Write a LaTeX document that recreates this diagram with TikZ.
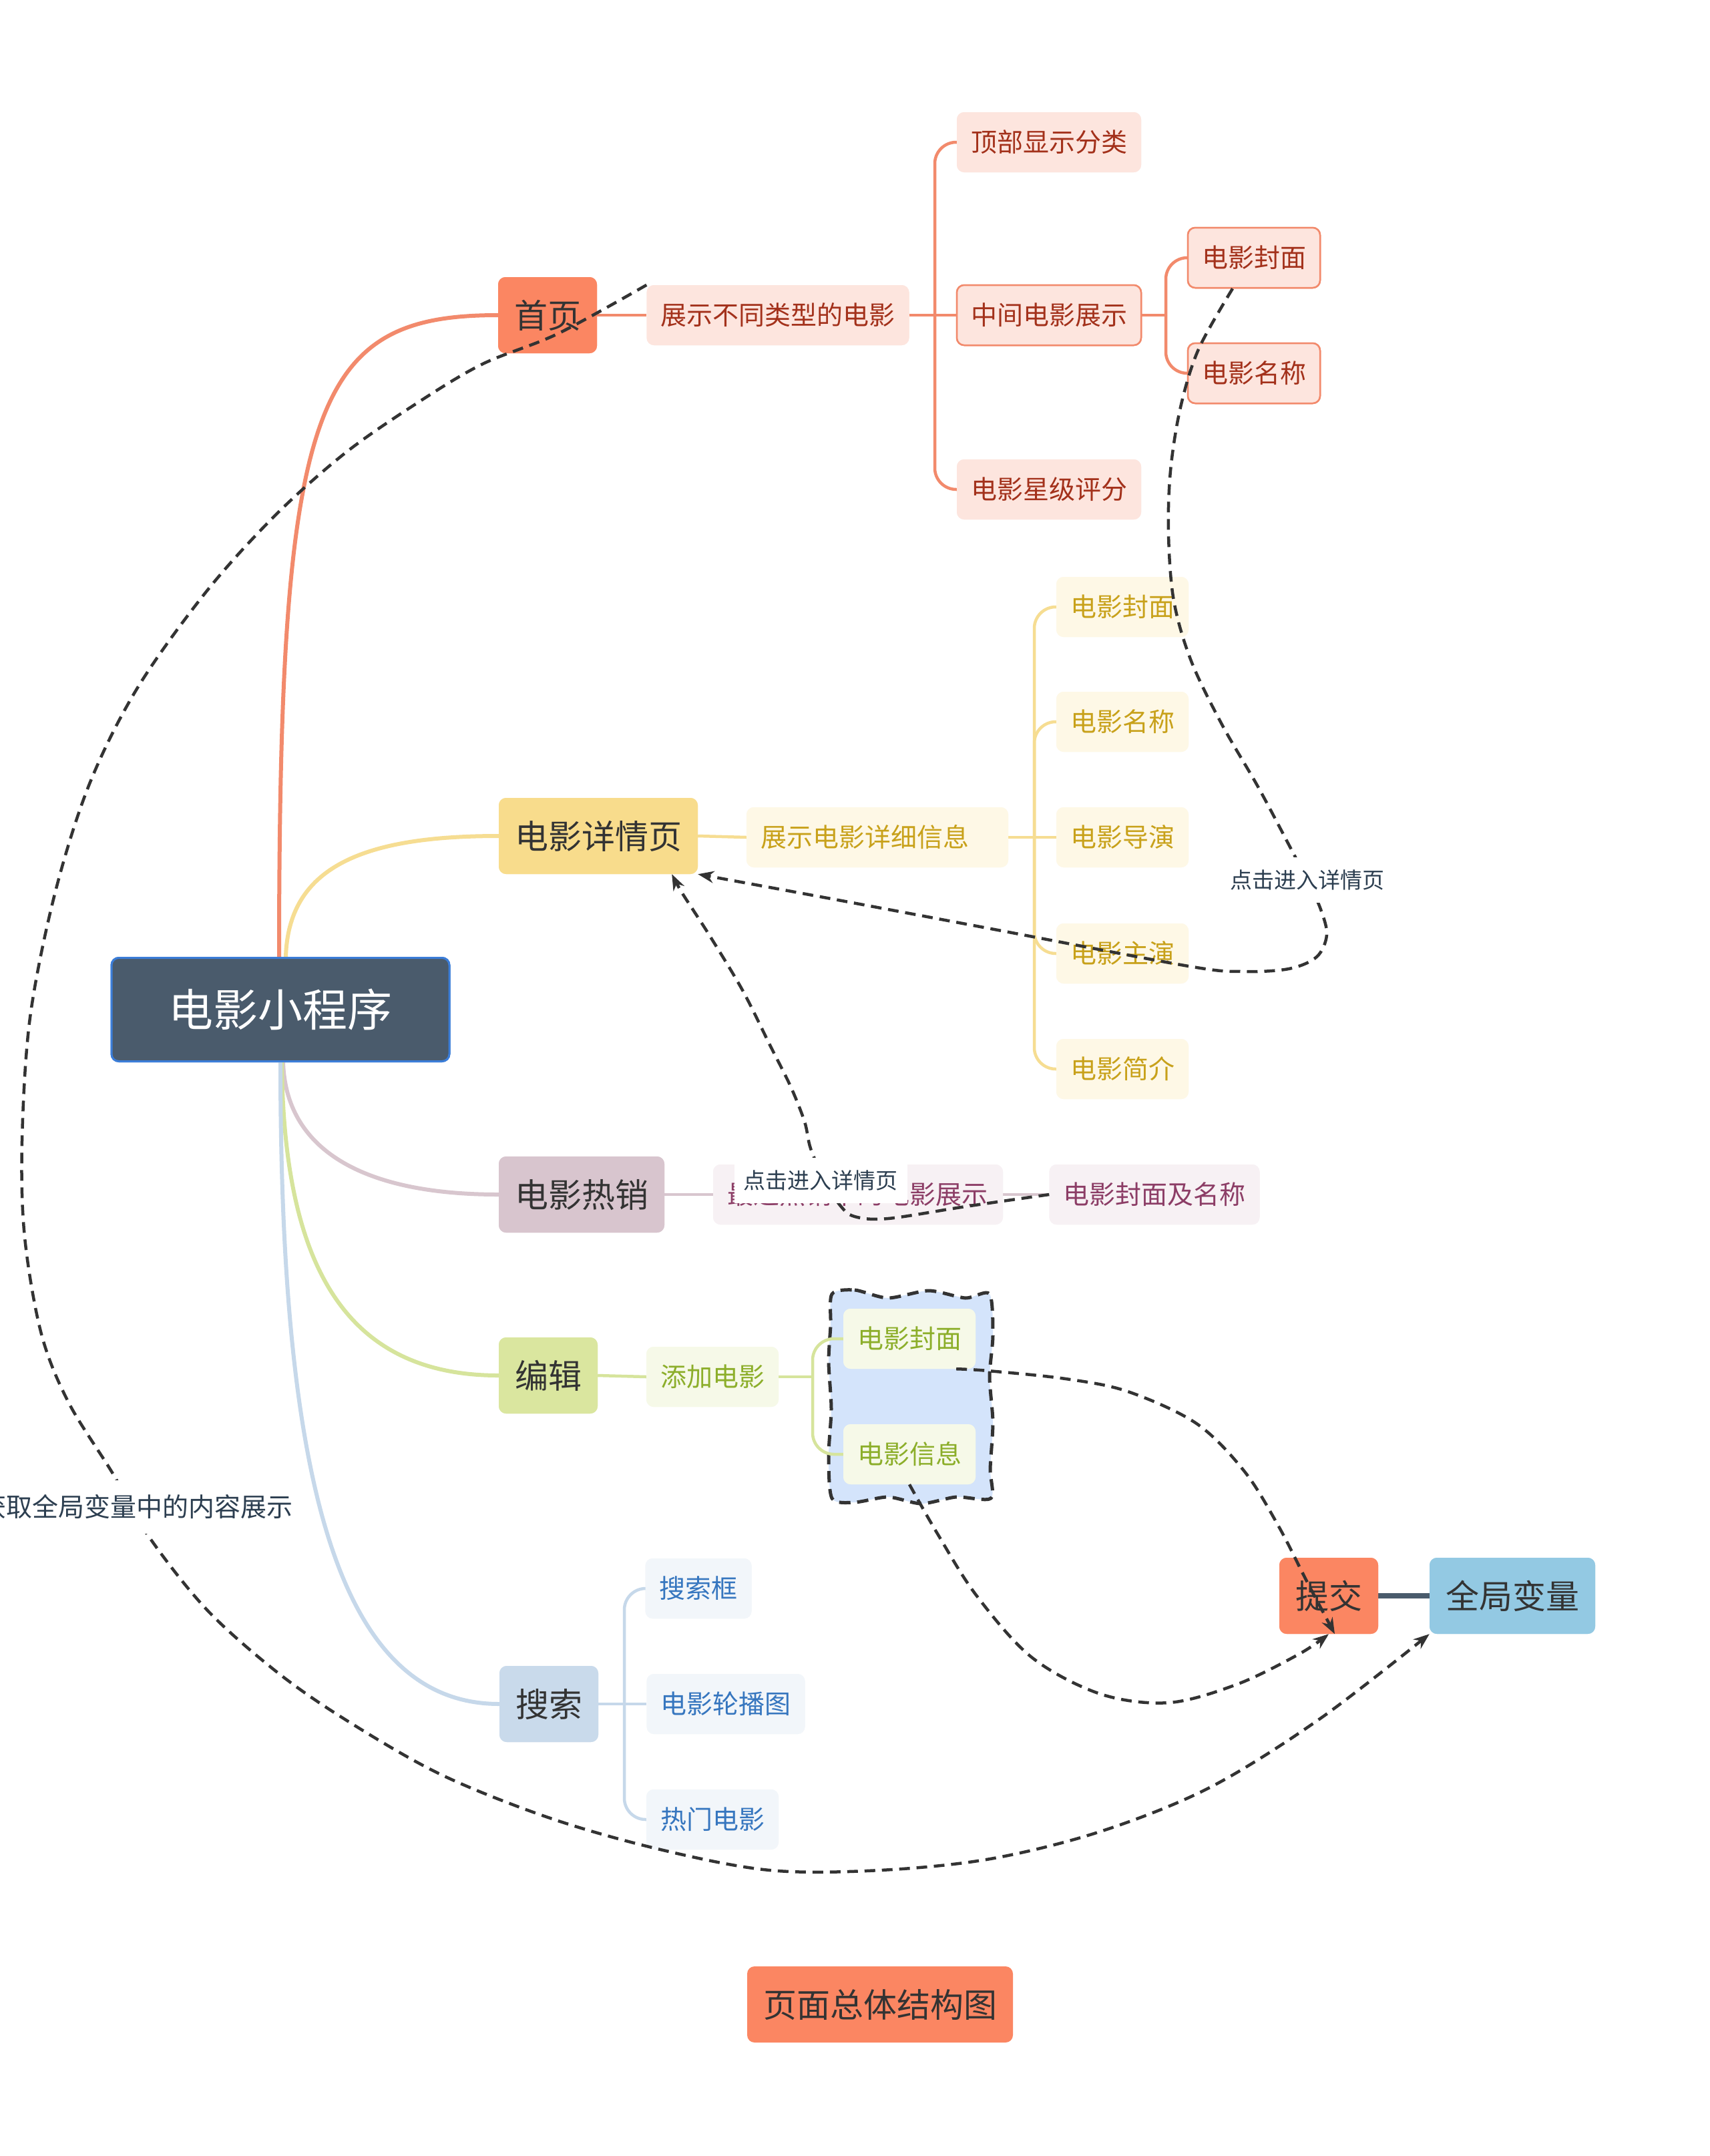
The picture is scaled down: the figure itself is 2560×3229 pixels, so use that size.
\documentclass[tikz,border=0pt]{standalone}
\usepackage{fontspec}
\setmainfont{Noto Sans CJK SC}
\usetikzlibrary{arrows.meta}
\definecolor{coral}{HTML}{FB8662}
\definecolor{homeline}{HTML}{F28A6C}
\definecolor{homesubfill}{HTML}{FDE5DE}
\definecolor{homesubtext}{HTML}{A3311B}
\definecolor{detfill}{HTML}{F8DC8C}
\definecolor{detline}{HTML}{F6DD92}
\definecolor{detsubfill}{HTML}{FEF8E6}
\definecolor{detsubtext}{HTML}{C8A11A}
\definecolor{hotfill}{HTML}{D8C5CE}
\definecolor{hotline}{HTML}{D8C6CE}
\definecolor{hotsubfill}{HTML}{F7F1F4}
\definecolor{hotsubtext}{HTML}{8C3D66}
\definecolor{editfill}{HTML}{DAE69F}
\definecolor{editline}{HTML}{D6E49C}
\definecolor{editsubfill}{HTML}{F6F9E8}
\definecolor{editsubtext}{HTML}{8CAE2A}
\definecolor{srchfill}{HTML}{C9DAEB}
\definecolor{srchline}{HTML}{C6D8EA}
\definecolor{srchsubfill}{HTML}{F2F6FA}
\definecolor{srchsubtext}{HTML}{3676BF}
\definecolor{gvfill}{HTML}{93C9E3}
\definecolor{rootfill}{HTML}{4A5B6C}
\definecolor{rootborder}{HTML}{3B7DD8}
\definecolor{maintext}{HTML}{333333}
\definecolor{lbltext}{HTML}{2C3E50}
\definecolor{relcol}{HTML}{333333}
\definecolor{boundfill}{HTML}{D4E4FB}
\definecolor{linkcol}{HTML}{4A5B6C}
\begin{document}
\begin{tikzpicture}[x=1pt,y=-1pt,
  base/.style={rounded corners=11pt, align=center, inner ysep=0pt},
  rootnode/.style={base, fill=rootfill, draw=rootborder, line width=3pt, text=white,
    font=\fontsize{67}{80}\selectfont, text height=53.6pt, text depth=2.7pt,
    minimum width=506pt, minimum height=155pt},
  maintopic/.style={base, font=\fontsize{50}{60}\selectfont, text height=40pt, text depth=2pt,
    inner xsep=24pt, minimum height=114pt, text=maintext},
  subtopic/.style={base, font=\fontsize{39}{47}\selectfont, text height=31.2pt, text depth=1.6pt,
    inner xsep=21pt, minimum height=90pt},
  homesub/.style={subtopic, fill=homesubfill, text=homesubtext},
  homesubb/.style={homesub, draw=homeline, line width=2.5pt},
  detsub/.style={subtopic, fill=detsubfill, text=detsubtext},
  hotsub/.style={subtopic, fill=hotsubfill, text=hotsubtext},
  editsub/.style={subtopic, fill=editsubfill, text=editsubtext},
  srchsub/.style={subtopic, fill=srchsubfill, text=srchsubtext},
  branch/.style={line width=6pt},
  twig/.style={line width=4.5pt, rounded corners=32pt},
  rel/.style={draw=relcol, line width=4.5pt, dash pattern=on 16pt off 10pt,
    -{Stealth[length=24pt,width=18pt]}},
  lbl/.style={fill=white, text=lbltext, font=\fontsize{33}{40}\selectfont,
    text height=26.4pt, text depth=1.3pt, inner xsep=14pt, inner ysep=20pt},
  biglbl/.style={lbl, font=\fontsize{39}{47}\selectfont, text height=31.2pt, text depth=1.6pt, inner ysep=24pt}
]
\useasboundingbox[fill=white] (0,0) rectangle (2560,3229);

% edit boundary
\draw[fill=boundfill, draw=relcol, line width=5pt, dash pattern=on 17pt off 10pt]
  plot[smooth cycle, tension=0.45] coordinates {
  (1246,1938) (1280,1932) (1330,1944) (1391,1933) (1446,1944) (1482,1938)
  (1487,2000) (1482,2062) (1487,2130) (1483,2200) (1484,2244)
  (1432,2242) (1380,2252) (1330,2242) (1280,2250) (1246,2244)
  (1241,2180) (1245,2110) (1241,2040) (1244,1985)};

% nodes (placed first so lines can refer to them; redrawn over lines below)
\node[rootnode] (root) at (420,1512) {电影小程序};
\node[maintopic, fill=coral] (home) at (820,472) {首页};
\node[homesub] (hd) at (1165,472) {展示不同类型的电影};
\node[homesub] (h1) at (1571,213) {顶部显示分类};
\node[homesubb] (h2) at (1571,472) {中间电影展示};
\node[homesub] (h3) at (1571,733) {电影星级评分};
\node[homesubb] (h21) at (1878,386) {电影封面};
\node[homesubb] (h22) at (1878,559) {电影名称};

\node[maintopic, fill=detfill] (det) at (896,1252) {电影详情页};
\node[detsub, text width=350pt, align=left] (dd) at (1314,1254) {展示电影详细信息};
\node[detsub] (dc1) at (1681,909) {电影封面};
\node[detsub] (dc2) at (1681,1081) {电影名称};
\node[detsub] (dc3) at (1681,1254) {电影导演};
\node[detsub] (dc4) at (1681,1428) {电影主演};
\node[detsub] (dc5) at (1681,1601) {电影简介};

\node[maintopic, fill=hotfill] (hot) at (871,1789) {电影热销};
\node[hotsub, text width=392pt, align=left] (hs) at (1285,1789) {最近热销中的电影展示};
\node[hotsub] (hc) at (1729,1789) {电影封面及名称};

\node[maintopic, fill=editfill] (edit) at (821,2060) {编辑};
\node[editsub] (ea) at (1067,2062) {添加电影};
\node[editsub] (ec) at (1362,2005) {电影封面};
\node[editsub] (ei) at (1362,2178) {电影信息};

\node[maintopic, fill=srchfill] (srch) at (822,2552) {搜索};
\node[srchsub] (s1) at (1046,2379) {搜索框};
\node[srchsub] (s2) at (1087,2552) {电影轮播图};
\node[srchsub] (s3) at (1067,2725) {热门电影};

\node[maintopic, fill=coral] (tj) at (1990,2390) {提交};
\node[maintopic, fill=gvfill] (gv) at (2265,2390) {全局变量};
\node[maintopic, fill=coral] (title) at (1318,3002) {页面总体结构图};

% junction coordinates
\coordinate (jh) at (1400,472);
\coordinate (jh2) at (1746,472);
\coordinate (jd) at (1549,1254);
\coordinate (je) at (1217,2062);
\coordinate (js) at (935,2552);

% main branches
\draw[branch, homeline] ([xshift=-2pt]root.north) .. controls (418,600) and (470,472) .. (home.west);
\draw[branch, detline] ([xshift=8pt]root.north) .. controls (432,1300) and (540,1252) .. (det.west);
\draw[branch, hotline] ([xshift=4pt]root.south) .. controls (428,1720) and (540,1789) .. (hot.west);
\draw[branch, editline] ([xshift=2pt]root.south) .. controls (425,1900) and (520,2060) .. (edit.west);
\draw[branch, srchline] (root.south) .. controls (420,2200) and (500,2552) .. (srch.west);

% sub branches
\draw[twig, homeline] (home.east) -- (hd.west);
\draw[twig, homeline] (hd.east) -- (jh) -- (h2.west);
\draw[twig, homeline] (jh) |- (h1.west);
\draw[twig, homeline] (jh) |- (h3.west);
\draw[twig, homeline] (h2.east) -- (jh2);
\draw[twig, homeline] (jh2) |- (h21.west);
\draw[twig, homeline] (jh2) |- (h22.west);

\draw[twig, detline] (det.east) -- (dd.west);
\draw[twig, detline] (dd.east) -- (jd) -- (dc3.west);
\foreach \c in {dc1,dc2,dc4,dc5} \draw[twig, detline] (jd) |- (\c.west);

\draw[twig, hotline] (hot.east) -- (hs.west);
\draw[twig, hotline] (hs.east) -- (hc.west);

\draw[twig, editline] (edit.east) -- (ea.west);
\draw[twig, editline] (ea.east) -- (je);
\draw[twig, editline] (je) |- (ec.west);
\draw[twig, editline] (je) |- (ei.west);

\draw[twig, srchline] (srch.east) -- (js) -- (s2.west);
\draw[twig, srchline] (js) |- (s1.west);
\draw[twig, srchline] (js) |- (s3.west);

\draw[linkcol, line width=8pt] (tj.east) -- (gv.west);

% redraw nodes over the lines
\node[rootnode] at (root) {电影小程序};
\node[maintopic, fill=coral] at (home) {首页};
\node[homesub] at (hd) {展示不同类型的电影};
\node[homesub] at (h1) {顶部显示分类};
\node[homesubb] at (h2) {中间电影展示};
\node[homesub] at (h3) {电影星级评分};
\node[homesubb] at (h21) {电影封面};
\node[homesubb] at (h22) {电影名称};
\node[maintopic, fill=detfill] at (det) {电影详情页};
\node[detsub, text width=350pt, align=left] at (dd) {展示电影详细信息};
\node[detsub] at (dc1) {电影封面};
\node[detsub] at (dc2) {电影名称};
\node[detsub] at (dc3) {电影导演};
\node[detsub] at (dc4) {电影主演};
\node[detsub] at (dc5) {电影简介};
\node[maintopic, fill=hotfill] at (hot) {电影热销};
\node[hotsub, text width=392pt, align=left] at (hs) {最近热销中的电影展示};
\node[hotsub] at (hc) {电影封面及名称};
\node[maintopic, fill=editfill] at (edit) {编辑};
\node[editsub] at (ea) {添加电影};
\node[editsub] at (ec) {电影封面};
\node[editsub] at (ei) {电影信息};
\node[maintopic, fill=srchfill] at (srch) {搜索};
\node[srchsub] at (s1) {搜索框};
\node[srchsub] at (s2) {电影轮播图};
\node[srchsub] at (s3) {热门电影};
\node[maintopic, fill=coral] at (tj) {提交};
\node[maintopic, fill=gvfill] at (gv) {全局变量};

% relationships
\draw[rel] plot[smooth, tension=0.55] coordinates {
  (hd.north west) (835,500) (721,546) (618,608) (515,680) (412,772) (309,886)
  (206,1030) (134,1174) (82,1339) (45,1524) (33,1709) (37,1853) (62,1998)
  (103,2101) (169,2207) (222,2300) (309,2410) (412,2502) (515,2574) (659,2657)
  (824,2723) (989,2770) (1153,2801) (1318,2801) (1483,2784) (1648,2743)
  (1812,2677) (1977,2574) (gv.south west)};

\draw[rel] plot[smooth, tension=0.55] coordinates {
  ([xshift=-32pt]h21.south) (1795,523) (1768,610) (1753,705) (1750,800)
  (1758,900) (1784,990) (1830,1085) (1885,1180) (1937,1278) (1958,1318)
  (1978,1362) (1987,1400) (1972,1433) (1930,1451) (1860,1455) (1780,1447)
  (1500,1394) (1250,1347) (det.south east)};

\draw[rel] plot[smooth, tension=0.55] coordinates {
  (hc.west) (1446,1807) (1330,1825) (1280,1822) (1258,1805) (1235,1768)
  (1214,1720) (1205,1680) (1184,1627) (1153,1565) (1112,1483) (1062,1400)
  (1022,1338) ([xshift=-39pt]det.south east)};

\draw[rel] plot[smooth, tension=0.55] coordinates {
  ([xshift=-29pt]ec.south east) (1480,2053) (1596,2065) (1689,2084) (1792,2132)
  (1864,2204) (1915,2286) (1957,2368) ([xshift=9pt]tj.south)};

\draw[rel] plot[smooth, tension=0.55] coordinates {
  (ei.south) (1404,2297) (1462,2389) (1545,2482) (1648,2537) (1751,2550)
  (1854,2522) (1946,2477) (tj.south)};

% relationship labels
\node[biglbl] (l1) at (205,2257) {获取全局变量中的内容展示};
\node[lbl] (l2) at (1958,1318) {点击进入详情页};
\node[lbl] (l3) at (1229,1768) {点击进入详情页};
\end{tikzpicture}
\end{document}
